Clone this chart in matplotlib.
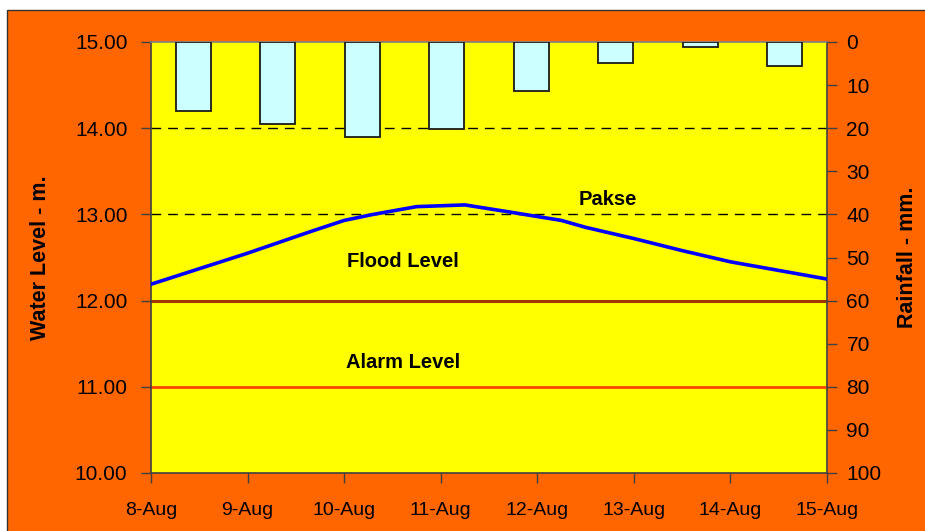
import matplotlib.pyplot as plt
from matplotlib.patches import Rectangle

plt.rcParams['font.family'] = ['Liberation Sans', 'DejaVu Sans']

# daily labels on the x axis
dates = ['8-Aug', '9-Aug', '10-Aug', '11-Aug', '12-Aug', '13-Aug', '14-Aug', '15-Aug']
# daily rainfall, mm (one bar per day interval)
rain_mm = [16.1, 19.0, 22.0, 20.3, 11.3, 4.9, 1.1, 5.5]
# water level readings at Pakse: days after 8-Aug, level in m
level_t = [0.0, 1.0, 1.65, 2.0, 2.3, 2.75, 3.25, 3.7, 4.25, 4.5, 5.0, 5.5, 6.0, 6.5, 7.0]
level_m = [12.19, 12.55, 12.80, 12.93, 13.00, 13.09, 13.11, 13.03, 12.93, 12.85,
           12.72, 12.58, 12.45, 12.35, 12.25]
flood_level = 12.0
alarm_level = 11.0
dashed_levels = [14.0, 13.0]

orange = '#FF6600'
yellow = '#FFFF00'
spine_col = '#404040'

fig = plt.figure(figsize=(9.25, 5.31), dpi=100, facecolor='white')
fig.patches.append(Rectangle((7 / 925, -0.02), 1.0, 1 - 9.5 / 531 + 0.02,
                             transform=fig.transFigure, facecolor=orange,
                             edgecolor='#333333', linewidth=1.0, zorder=-1))

pos = [151 / 925, 58 / 531, 676 / 925, 431 / 531]
ax = fig.add_axes(pos)
ax.set_facecolor(yellow)

for lv in dashed_levels:
    ax.axhline(lv, color='black', linewidth=1.0, linestyle=(0, (7, 5)), zorder=1)
ax.axhline(flood_level, color='#9E3A00', linewidth=2.2, zorder=2)
ax.axhline(alarm_level, color='#FF4400', linewidth=2.0, zorder=2)
ax.plot(level_t, level_m, color='#0000FF', linewidth=2.6, zorder=3,
        solid_joinstyle='round', solid_capstyle='round')

ax.set_xlim(0, len(dates) - 1)
ax.set_ylim(10, 15)
ax.set_xticks(range(len(dates)))
ax.set_xticklabels(dates)
ax.set_yticks([10, 11, 12, 13, 14, 15])
ax.set_yticklabels([f'{v:.2f}' for v in [10, 11, 12, 13, 14, 15]])
ax.tick_params(axis='both', direction='out', length=7,
               color=spine_col, width=1.0)
ax.tick_params(axis='y', labelsize=15, pad=10)
ax.tick_params(axis='x', labelsize=14, pad=14)
ax.set_ylabel('Water Level - m.', fontsize=15.5, fontweight='bold', labelpad=17)

for side in ['left', 'bottom', 'right']:
    ax.spines[side].set_color(spine_col)
    ax.spines[side].set_linewidth(1.2)
ax.spines['top'].set_color('#808080')
ax.spines['top'].set_linewidth(1.2)

ax.text(4.73, 13.17, 'Pakse', fontsize=14.5, fontweight='bold', ha='center', va='center')
ax.text(2.61, 12.45, 'Flood Level', fontsize=14.5, fontweight='bold', ha='center', va='center')
ax.text(2.61, 11.28, 'Alarm Level', fontsize=14.5, fontweight='bold', ha='center', va='center')

# rainfall bars hang from the top on their own inverted axis
ax2 = fig.add_axes(pos)
ax2.patch.set_visible(False)
ax2.bar([i + 0.5 for i in range(len(rain_mm))], rain_mm, width=0.41,
        color='#CCFFFF', edgecolor='#1A1A1A', linewidth=1.3, zorder=4)
ax2.set_xlim(0, len(rain_mm))
ax2.set_ylim(100, 0)
ax2.set_xticks([])
ax2.yaxis.tick_right()
ax2.yaxis.set_label_position('right')
ax2.set_yticks(range(0, 101, 10))
ax2.tick_params(axis='y', labelsize=15, direction='out', length=7,
                color=spine_col, width=1.0, pad=7)
ax2.set_ylabel('Rainfall - mm.', fontsize=15.5, fontweight='bold', labelpad=11)
for side in ax2.spines:
    ax2.spines[side].set_visible(False)

fig.savefig('out.png', dpi=100, facecolor=fig.get_facecolor())
